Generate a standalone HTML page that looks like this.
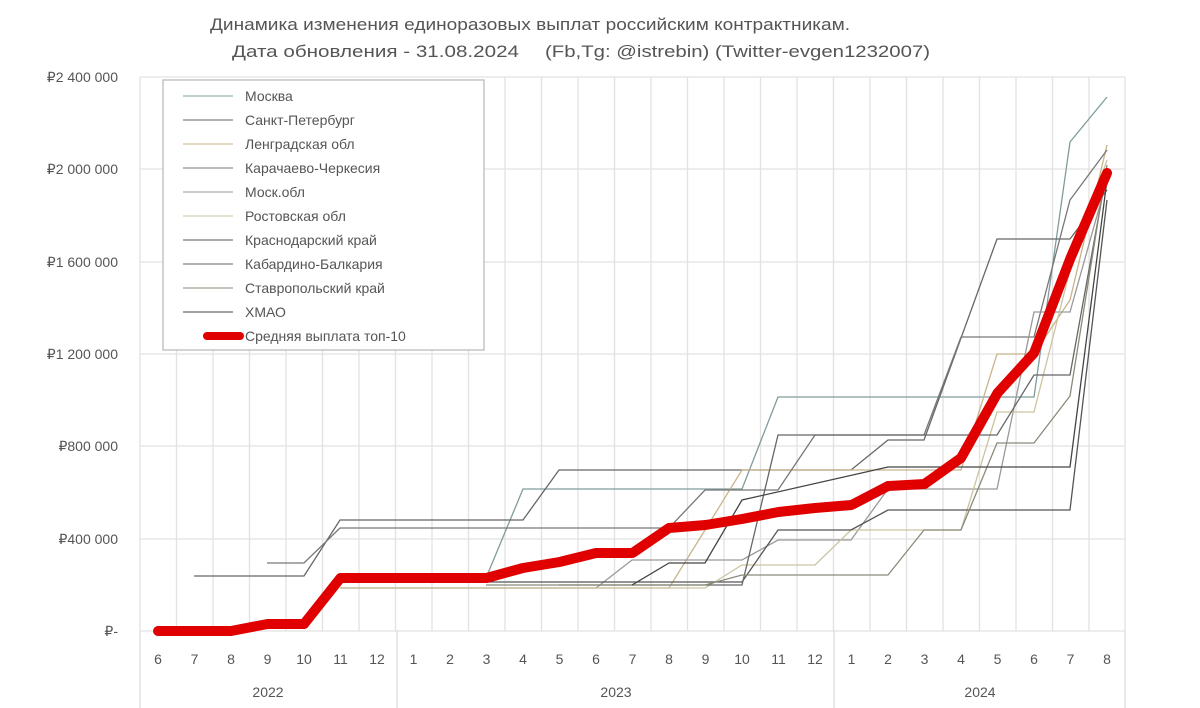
<!DOCTYPE html><html><head><meta charset="utf-8"><style>body{margin:0;background:#fff}svg{display:block;font-family:"Liberation Sans",sans-serif}</style></head><body>
<svg width="1200" height="708" viewBox="0 0 1200 708">
<text x="210" y="30" font-size="17" fill="#555" textLength="640" lengthAdjust="spacingAndGlyphs">Динамика изменения единоразовых выплат российским контрактникам.</text>
<text x="232" y="57" font-size="17" fill="#555" textLength="287" lengthAdjust="spacingAndGlyphs">Дата обновления - 31.08.2024</text>
<text x="545" y="57" font-size="17" fill="#555" textLength="385" lengthAdjust="spacingAndGlyphs">(Fb,Tg: @istrebin) (Twitter-evgen1232007)</text>
<g stroke="#e2e2e2" stroke-width="1.3">
<line x1="140" y1="77" x2="1125" y2="77"/><line x1="140" y1="169" x2="1125" y2="169"/><line x1="140" y1="262" x2="1125" y2="262"/><line x1="140" y1="354" x2="1125" y2="354"/><line x1="140" y1="446" x2="1125" y2="446"/><line x1="140" y1="539" x2="1125" y2="539"/><line x1="140" y1="631" x2="1125" y2="631"/>
</g>
<g stroke="#e2e2e2" stroke-width="1.3" id="vg"></g>
<g stroke="#ddd" stroke-width="1.3"><line x1="140" y1="631" x2="140" y2="708"/><line x1="397" y1="631" x2="397" y2="708"/><line x1="834" y1="631" x2="834" y2="708"/><line x1="1125" y1="631" x2="1125" y2="708"/></g>
<g font-size="14" fill="#555" text-anchor="end">
<text x="118" y="82">₽2 400 000</text><text x="118" y="174">₽2 000 000</text><text x="118" y="267">₽1 600 000</text><text x="118" y="359">₽1 200 000</text><text x="118" y="451">₽800 000</text><text x="118" y="544">₽400 000</text><text x="118" y="636">₽-</text>
</g>
<g font-size="14" fill="#555" text-anchor="middle" id="ml"></g>
<g font-size="14" fill="#555" text-anchor="middle"><text x="268" y="697">2022</text><text x="616" y="697">2023</text><text x="980" y="697">2024</text></g>
<g fill="none" stroke-width="1.3">
<polyline stroke="#7f9c9c" points="413,578 486,578 523,489 742,489 778,397 1034,397 1070,142 1107,97"/>
<polyline stroke="#666" points="194,576 304,576 340,520 523,520 559,470 851,470 888,440 924,440 997,239 1070,239 1107,190"/>
<polyline stroke="#c9b48a" points="340,588 669,588 705,530 742,470 961,470 997,354 1034,354 1070,300 1107,145"/>
<polyline stroke="#777" points="267,563 304,563 340,528 669,528 705,490 778,490 815,435 924,435 961,337 1034,337 1070,200 1107,150"/>
<polyline stroke="#999" points="340,588 596,588 632,560 742,560 778,540 851,540 888,489 997,489 1034,312 1070,312 1107,180"/>
<polyline stroke="#cbc3a0" points="340,588 705,588 742,565 815,565 851,530 961,530 997,412 1034,412 1070,270 1107,160"/>
<polyline stroke="#555" points="486,582 742,582 778,530 851,530 888,510 1070,510 1107,200"/>
<polyline stroke="#666" points="559,585 742,585 778,435 997,435 1034,375 1070,375 1107,170"/>
<polyline stroke="#8a8a7a" points="486,585 705,585 742,575 888,575 924,530 961,530 997,443 1034,443 1070,396 1107,165"/>
<polyline stroke="#444" points="632,585 669,563 705,563 742,500 888,467 1070,467 1107,180"/>
<polyline stroke="#e00000" stroke-width="10" stroke-linejoin="round" stroke-linecap="round" points="158,631 194.5,631 231,631 267.5,624 304,624 340.5,578 377,578 413.5,578 450,578 486.5,578 523,568 559.5,562 596,553 632.5,553 669,528 705.5,525 742,519 778.5,512 815,508 851.5,505 888,486 924.5,484 961,458 997.5,393 1034,353 1070.5,258 1107,173"/>
</g>
<rect x="163" y="80" width="321" height="270" fill="#fff" stroke="#bbb" stroke-width="1.3"/>
<g font-size="14" fill="#555">
<line x1="183" x2="233" y1="96" y2="96" stroke="#7f9c9c"/><text x="245" y="101">Москва</text>
<line x1="183" x2="233" y1="120" y2="120" stroke="#666"/><text x="245" y="125">Санкт-Петербург</text>
<line x1="183" x2="233" y1="144" y2="144" stroke="#c9b48a"/><text x="245" y="149">Ленградская обл</text>
<line x1="183" x2="233" y1="168" y2="168" stroke="#777"/><text x="245" y="173">Карачаево-Черкесия</text>
<line x1="183" x2="233" y1="192" y2="192" stroke="#999"/><text x="245" y="197">Моск.обл</text>
<line x1="183" x2="233" y1="216" y2="216" stroke="#cbc3a0"/><text x="245" y="221">Ростовская обл</text>
<line x1="183" x2="233" y1="240" y2="240" stroke="#555"/><text x="245" y="245">Краснодарский край</text>
<line x1="183" x2="233" y1="264" y2="264" stroke="#666"/><text x="245" y="269">Кабардино-Балкария</text>
<line x1="183" x2="233" y1="288" y2="288" stroke="#8a8a7a"/><text x="245" y="293">Ставропольский край</text>
<line x1="183" x2="233" y1="312" y2="312" stroke="#444"/><text x="245" y="317">ХМАО</text>
<line x1="207" x2="240" y1="336" y2="336" stroke="#e00000" stroke-width="8" stroke-linecap="round"/><text x="245" y="341">Средняя выплата топ-10</text>
</g>
</svg>
<script>
var vg=document.getElementById('vg'),ml=document.getElementById('ml'),ns='http://www.w3.org/2000/svg';
var m=[6,7,8,9,10,11,12,1,2,3,4,5,6,7,8,9,10,11,12,1,2,3,4,5,6,7,8];
for(var i=0;i<=27;i++){var x=140+36.5*i;if(x>1125)x=1125;
var l=document.createElementNS(ns,'line');l.setAttribute('x1',x);l.setAttribute('x2',x);l.setAttribute('y1',(x>163&&x<484)?350:77);l.setAttribute('y2',631);vg.appendChild(l);
if(i<27){var t=document.createElementNS(ns,'text');t.setAttribute('x',158+36.5*i);t.setAttribute('y',664);t.textContent=m[i];ml.appendChild(t);}}
</script>
</body></html>
